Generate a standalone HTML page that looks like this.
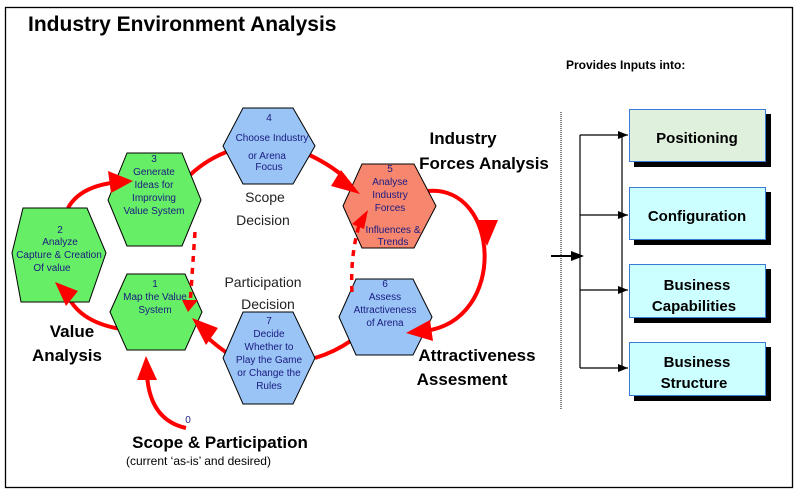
<!DOCTYPE html>
<html><head><meta charset="utf-8"><style>
body{margin:0;background:#fff;}
svg{display:block;font-family:"Liberation Sans",Arial,sans-serif;}
.h{font-size:10px;fill:#1a1a80;text-anchor:middle;}
.b{font-weight:bold;fill:#000;}
</style></head><body>
<svg width="801" height="495" viewBox="0 0 801 495" xmlns="http://www.w3.org/2000/svg">
<rect x="5.5" y="7.5" width="787" height="480" fill="#fff" stroke="#000" stroke-width="1.3"/>
<text x="28" y="31" class="b" font-size="21">Industry Environment Analysis</text>

<!-- red arcs -->
<g fill="none" stroke="#f00" stroke-width="4">
<path d="M68,208 Q80,186 118,182"/>
<path d="M190,175 Q208,158 232,150"/>
<path d="M303,152 Q330,164 345,178"/>
<path d="M428,191 C500,185 508,320 425,331"/>
<path d="M352,340 Q335,352 315,358"/>
<path d="M230,355 Q215,345 205,335"/>
<path d="M128,330 Q85,325 70,300"/>
<path d="M186,428 Q150,420 147,375"/>
</g>

<!-- hexagons -->
<g stroke="#000" stroke-width="1">
<polygon points="12,253 23,208 87,208 106,253 89,302 21,302" fill="#66ee66"/>
<polygon points="108,200 127,153 182,153 201,200 182,246 127,246" fill="#66ee66"/>
<polygon points="110,312 127,274 185,274 202,312 185,350 127,350" fill="#66ee66"/>
<polygon points="223,146 243,108 293,108 315,146 293,184 243,184" fill="#99c4f5"/>
<polygon points="343,206 362,164 414,164 436,206 414,248 362,248" fill="#f7866e"/>
<polygon points="339,317 356,279 413,279 432,317 413,355 356,355" fill="#99c4f5"/>
<polygon points="223,358 243,312 293,312 315,358 293,404 243,404" fill="#99c4f5"/>
</g>

<!-- dotted + arrowheads on top -->
<g fill="none" stroke="#f00" stroke-width="3.5" stroke-dasharray="6,6">
<path d="M195,232 L190,305"/>
<path d="M352,292 Q350,255 360,222"/>
</g>
<g fill="#f00">
<polygon points="133,181 108,171 111,193"/>
<polygon points="360,194 341,170 331,186"/>
<polygon points="487,246 476,220 498,220"/>
<polygon points="406,333 430,320 433,341"/>
<polygon points="192,318 218,328 206,345"/>
<polygon points="55,282 78,291 66,306"/>
<polygon points="146,356 137,380 157,380"/>
<polygon points="188,312 182,300 198,300"/>
<polygon points="368,210 352,224 364,229"/>
</g>

<text class="h" y="233"><tspan x="60">2</tspan><tspan x="60" dy="12">Analyze</tspan><tspan x="59" dy="13">Capture &amp; Creation</tspan><tspan x="52" dy="13">Of  value</tspan></text>
<text class="h" y="162"><tspan x="154">3</tspan><tspan x="154" dy="13">Generate</tspan><tspan x="154" dy="13">Ideas for</tspan><tspan x="154" dy="13">Improving</tspan><tspan x="154" dy="13">Value System</tspan></text>
<text class="h" y="287"><tspan x="155">1</tspan><tspan x="155" dy="13">Map the Value</tspan><tspan x="155" dy="13">System</tspan></text>
<text class="h" y="121"><tspan x="269">4</tspan><tspan x="272" dy="20">Choose  Industry</tspan><tspan x="267" dy="18">or Arena</tspan><tspan x="269" dy="11">Focus</tspan></text>
<text class="h" y="172" fill="#5a1a60"><tspan x="390">5</tspan><tspan x="390" dy="13">Analyse</tspan><tspan x="390" dy="13">Industry</tspan><tspan x="390" dy="13">Forces</tspan><tspan x="393" dy="22">Influences &amp;</tspan><tspan x="393" dy="12">Trends</tspan></text>
<text class="h" y="287"><tspan x="385">6</tspan><tspan x="385" dy="13">Assess</tspan><tspan x="385" dy="13">Attractiveness</tspan><tspan x="385" dy="13">of Arena</tspan></text>
<text class="h" y="324"><tspan x="269">7</tspan><tspan x="269" dy="13">Decide</tspan><tspan x="269" dy="13">Whether to</tspan><tspan x="269" dy="13">Play the Game</tspan><tspan x="269" dy="13">or Change the</tspan><tspan x="269" dy="13">Rules</tspan></text>
<text x="188" y="423" class="h" font-size="8">0</text>

<g font-size="14" fill="#222" text-anchor="middle">
<text x="265" y="202">Scope</text><text x="263" y="225">Decision</text>
<text x="263" y="287">Participation</text><text x="268" y="309">Decision</text>
</g>
<g class="b" font-size="17" text-anchor="middle">
<text x="463" y="144">Industry</text><text x="484" y="169">Forces Analysis</text>
<text x="72" y="337">Value</text><text x="67" y="361">Analysis</text>
<text x="477" y="361">Attractiveness</text><text x="462" y="385">Assesment</text>
<text x="220" y="448">Scope &amp; Participation</text>
</g>
<text x="126" y="465" font-size="12" fill="#000">(current ‘as-is’ and desired)</text>

<text x="566" y="69" class="b" font-size="12">Provides Inputs into:</text>
<path d="M561,112V410" stroke="#000" stroke-width="1" stroke-dasharray="1,1" fill="none"/>
<g stroke="#000" stroke-width="1.2" fill="none">
<path d="M580,135V368 M622,135V368 M580,135H628 M580,215H628 M580,290H628 M580,368H628"/>
<path d="M551,256H582" stroke-width="2"/>
</g>
<g fill="#000">
<polygon points="628,135 618,131 618,139"/><polygon points="628,215 618,211 618,219"/>
<polygon points="628,290 618,286 618,294"/><polygon points="628,368 618,364 618,372"/>
<polygon points="584,256 571,251 571,261"/>
</g>
<g>
<rect x="634" y="114" width="137" height="53" fill="#000"/>
<rect x="629.5" y="109.5" width="136" height="52" fill="#dff0dd" stroke="#3a7bd5"/>
<rect x="634" y="192" width="137" height="53" fill="#000"/>
<rect x="629.5" y="187.5" width="136" height="52" fill="#ccffff" stroke="#3a7bd5"/>
<rect x="634" y="269" width="137" height="54" fill="#000"/>
<rect x="629.5" y="264.5" width="136" height="53" fill="#ccffff" stroke="#3a7bd5"/>
<rect x="634" y="347" width="137" height="54" fill="#000"/>
<rect x="629.5" y="342.5" width="136" height="53" fill="#ccffff" stroke="#3a7bd5"/>
</g>
<g class="b" font-size="15" text-anchor="middle" fill="#111">
<text x="697" y="143">Positioning</text>
<text x="697" y="221">Configuration</text>
<text x="697" y="290">Business</text><text x="694" y="311">Capabilities</text>
<text x="697" y="367">Business</text><text x="694" y="388">Structure</text>
</g>
</svg>
</body></html>
